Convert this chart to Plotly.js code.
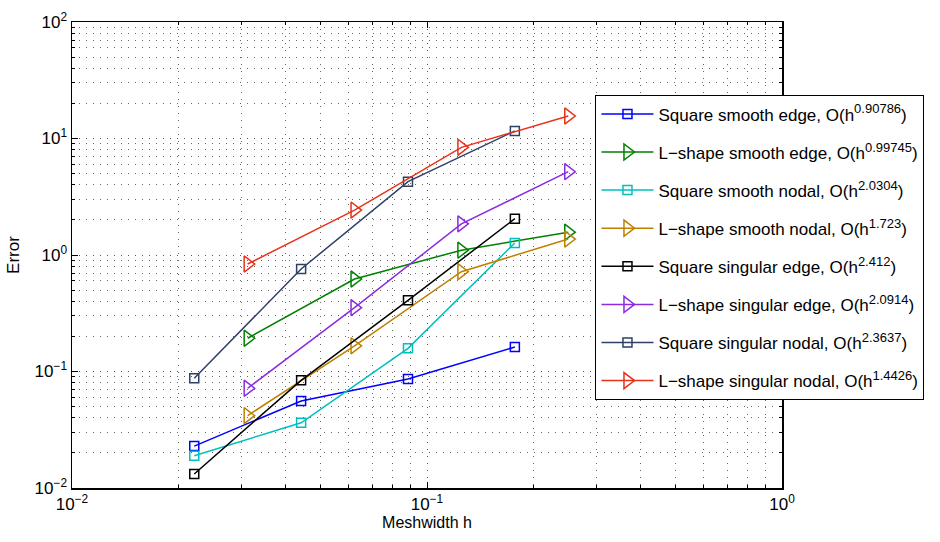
<!DOCTYPE html>
<html><head><meta charset="utf-8">
<script src="https://cdn.plot.ly/plotly-3.0.1.min.js"></script>
<style>html,body{margin:0;padding:0;background:#fff}#c{width:940px;height:542px}</style>
</head><body><div id="c"></div>
<script>
// Meshwidths
const hSquare = [0.0221, 0.0442, 0.0884, 0.1768];
const hLshape = [0.03125, 0.0625, 0.125, 0.25];

// Errors
const sqSmoothEdge   = [0.0229, 0.0558, 0.0863, 0.162];
const lSmoothEdge    = [0.193, 0.622, 1.10, 1.57];
const sqSmoothNodal  = [0.0189, 0.0363, 0.158, 1.27];
const lSmoothNodal   = [0.0418, 0.166, 0.719, 1.37];
const sqSingEdge     = [0.0132, 0.084, 0.408, 2.05];
const lSingEdge      = [0.0718, 0.353, 1.85, 5.19];
const sqSingNodal    = [0.0874, 0.758, 4.26, 11.6];
const lSingNodal     = [0.837, 2.43, 8.40, 15.6];

// Tick labels
const xTickVals = [0.01, 0.1, 1];
const xTickText = ['10<sup>\u22122</sup>', '10<sup>\u22121</sup>', '10<sup>0</sup>'];
const yTickVals = [0.01, 0.1, 1, 10, 100];
const yTickText = ['10<sup>\u22122</sup>', '10<sup>\u22121</sup>', '10<sup>0</sup>', '10<sup>1</sup>', '10<sup>2</sup>'];

// Legend labels: base text and rate exponents
const labelBase = [
  'Square smooth edge, O(h',
  'L\u2212shape smooth edge, O(h',
  'Square smooth nodal, O(h',
  'L\u2212shape smooth nodal, O(h',
  'Square singular edge, O(h',
  'L\u2212shape singular edge, O(h',
  'Square singular nodal, O(h',
  'L\u2212shape singular nodal, O(h'
];
const rates = ['0.90786','0.99745','2.0304','1.723','2.412','2.0914','2.3637','1.4426'];

const colors = ['#0000ff','#008000','#00bfbf','#bf8000','#000000','#8a2be2','#2e4066','#e8321a'];
const series = [sqSmoothEdge,lSmoothEdge,sqSmoothNodal,lSmoothNodal,sqSingEdge,lSingEdge,sqSingNodal,lSingNodal];

const FONT = 'Liberation Sans, Arial, Helvetica, sans-serif';

const traces = series.map((ys,i)=>{
  const isSq = i%2===0;
  return {
    x: isSq ? hSquare : hLshape, y: ys,
    name: labelBase[i] + '<sup><span style="font-size:13px">' + rates[i] + '</span></sup>)',
    type:'scatter', mode:'lines+markers', legendgroup:'g'+i,
    line:{color:colors[i], width:1.5},
    marker: isSq ? {symbol:'square-open', size:9, color:colors[i], line:{width:1.5}}
                 : {symbol:'triangle-right-open', size:14, color:colors[i], line:{width:1.5}}
  };
});

const gridDot = '1px,6px';
const axisCommon = {
  type:'log', tickmode:'array', showline:true, linecolor:'#000', linewidth:1.5,
  mirror:'ticks', ticks:'inside', ticklen:6, tickcolor:'#000', showgrid:true,
  gridcolor:'#555', griddash:gridDot, gridwidth:1, zeroline:false,
  tickfont:{family:FONT, size:17, color:'#000'},
  minor:{dtick:'D1', ticks:'inside', ticklen:3, tickcolor:'#000', showgrid:true, gridcolor:'#666', griddash:gridDot, gridwidth:1}
};

const layout = {
  width:940, height:542, paper_bgcolor:'#fff', plot_bgcolor:'#fff',
  margin:{l:72, r:158, t:22, b:54},
  font:{family:FONT, size:16, color:'#000'},
  showlegend:true,
  xaxis:Object.assign({}, axisCommon, {range:[-2,0], tickvals:xTickVals, ticktext:xTickText,
    title:{text:'Meshwidth h', standoff:2, font:{family:FONT, size:16, color:'#000'}}}),
  yaxis:Object.assign({}, axisCommon, {range:[-2,2], tickvals:yTickVals, ticktext:yTickText,
    title:{text:'Error', standoff:10, font:{family:FONT, size:17, color:'#000'}}}),
  legend:{x:0.737, y:0.843, xanchor:'left', yanchor:'top', bgcolor:'#fff', bordercolor:'#000', borderwidth:1.2,
    font:{family:FONT, size:17, color:'#000'}, itemwidth:52,
    traceorder:'grouped', tracegroupgap:13}
};
Plotly.newPlot('c', traces, layout, {displayModeBar:false, staticPlot:true});
</script></body></html>
